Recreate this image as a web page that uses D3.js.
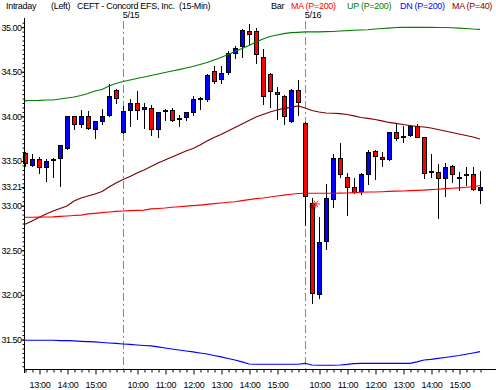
<!DOCTYPE html>
<html>
<head>
<meta charset="utf-8">
<script src="https://cdn.jsdelivr.net/npm/d3@7"></script>
<style>
  body { margin: 0; background: #fff; }
  svg { display: block; font-family: "Liberation Sans", Arial, sans-serif; }
</style>
</head>
<body>
<svg id="chart"></svg>
<script>
// CEFT 15-min bars, 5/14 12:30 .. 5/16 15:45
// slot = day * 26 + bar of the day (9:30 bar = 0)
const firstSlot = 12;

const open = [
  33.59, 33.46, 33.52, 33.43, 33.51, 33.53, 33.65, 34.00, 33.92, 34.01, 33.86, 33.95, 34.02, 34.30,
  33.83, 34.07, 34.15, 34.08, 34.09, 33.86, 34.07, 34.07, 33.98, 33.99, 34.05, 34.21, 34.20,
  34.51, 34.42, 34.50, 34.71, 34.79, 34.96, 34.96, 34.66, 34.48, 34.27, 34.23, 33.95, 34.30,
  33.93, 33.03, 32.01, 32.60, 33.08, 33.53, 33.32, 33.21, 33.16, 33.36, 33.61, 33.54, 33.52,
  33.82, 33.78, 33.79, 33.89, 33.77, 33.39, 33.38, 33.31, 33.44, 33.32, 33.35, 33.35, 33.18
];
const high = [
  33.60, 33.58, 33.55, 33.52, 33.53, 33.68, 34.01, 34.01, 34.07, 34.06, 33.95, 34.08, 34.36, 34.31,
  34.12, 34.19, 34.28, 34.15, 34.13, 34.05, 34.08, 34.09, 34.02, 34.05, 34.23, 34.22, 34.47,
  34.57, 34.56, 34.73, 34.79, 34.98, 35.03, 34.99, 34.76, 34.49, 34.33, 34.24, 34.31, 34.41,
  33.94, 33.09, 32.87, 33.24, 33.58, 33.70, 33.37, 33.31, 33.37, 33.62, 33.62, 33.60, 33.83,
  33.92, 33.89, 33.90, 33.92, 33.77, 33.58, 33.47, 33.48, 33.45, 33.38, 33.43, 33.43, 33.39
];
const low = [
  33.44, 33.44, 33.37, 33.28, 33.32, 33.22, 33.64, 33.86, 33.88, 33.86, 33.76, 33.91, 34.01, 34.15,
  33.81, 33.89, 33.97, 33.87, 33.79, 33.77, 33.96, 33.95, 33.89, 33.96, 34.02, 34.08, 34.17,
  34.37, 34.37, 34.48, 34.65, 34.66, 34.81, 34.60, 34.14, 34.10, 33.97, 33.92, 33.94, 34.02,
  32.78, 31.91, 31.97, 32.52, 32.98, 33.32, 32.90, 33.14, 33.13, 33.24, 33.30, 33.44, 33.51,
  33.74, 33.71, 33.78, 33.77, 33.31, 33.32, 32.86, 33.11, 33.27, 33.18, 33.23, 33.18, 33.03
];
const close = [
  33.48, 33.52, 33.43, 33.50, 33.52, 33.68, 34.01, 33.92, 34.01, 33.87, 33.95, 34.01, 34.23, 34.21,
  34.06, 34.15, 34.07, 34.10, 33.86, 34.05, 34.07, 33.96, 33.98, 34.05, 34.19, 34.21, 34.46,
  34.40, 34.49, 34.71, 34.77, 34.97, 34.92, 34.70, 34.23, 34.28, 34.25, 34.01, 34.30, 34.16,
  33.11, 32.02, 32.59, 33.09, 33.53, 33.36, 33.21, 33.15, 33.35, 33.60, 33.56, 33.52, 33.82,
  33.76, 33.78, 33.89, 33.77, 33.37, 33.39, 33.31, 33.43, 33.36, 33.32, 33.35, 33.19, 33.21
];

const ma200 = [
  32.870, 32.870, 32.872, 32.873, 32.875, 32.879, 32.884, 32.890, 32.895, 32.907, 32.914, 32.921, 32.929, 32.935,
  32.940, 32.944, 32.948, 32.951, 32.963, 32.968, 32.974, 32.982, 32.988, 32.994, 33.000, 33.007, 33.015,
  33.022, 33.030, 33.038, 33.044, 33.056, 33.067, 33.078, 33.086, 33.097, 33.108, 33.119, 33.128, 33.136,
  33.139, 33.139, 33.139, 33.139, 33.139, 33.140, 33.142, 33.147, 33.150, 33.153, 33.153, 33.156, 33.159,
  33.162, 33.164, 33.168, 33.172, 33.175, 33.179, 33.184, 33.190, 33.195, 33.200, 33.206, 33.212, 33.226
];
const up200 = [
  34.176, 34.178, 34.180, 34.184, 34.184, 34.195, 34.206, 34.217, 34.234, 34.257, 34.285, 34.301, 34.341, 34.369,
  34.391, 34.408, 34.425, 34.441, 34.458, 34.475, 34.492, 34.509, 34.525, 34.542, 34.559, 34.581, 34.604,
  34.632, 34.660, 34.693, 34.727, 34.761, 34.794, 34.834, 34.867, 34.895, 34.912, 34.927, 34.938, 34.942,
  34.946, 34.946, 34.948, 34.949, 34.951, 34.957, 34.960, 34.965, 34.968, 34.971, 34.979, 34.985, 34.990,
  34.996, 34.998, 34.998, 34.998, 34.998, 34.998, 34.996, 34.996, 34.993, 34.990, 34.985, 34.979, 34.976
];
const dn200 = [
  31.492, 31.492, 31.492, 31.492, 31.492, 31.489, 31.487, 31.484, 31.480, 31.476, 31.473, 31.467, 31.461, 31.456,
  31.450, 31.445, 31.439, 31.433, 31.428, 31.417, 31.405, 31.394, 31.383, 31.372, 31.361, 31.349, 31.338,
  31.321, 31.305, 31.288, 31.271, 31.249, 31.226, 31.223, 31.223, 31.223, 31.223, 31.223, 31.223, 31.223,
  31.234, 31.215, 31.212, 31.212, 31.212, 31.215, 31.221, 31.230, 31.234, 31.234, 31.234, 31.234, 31.234,
  31.234, 31.234, 31.234, 31.249, 31.271, 31.277, 31.288, 31.299, 31.310, 31.321, 31.335, 31.349, 31.364
];
const ma40 = [
  32.791, 32.828, 32.867, 32.907, 32.940, 32.968, 32.996, 33.052, 33.086, 33.108, 33.131, 33.159, 33.209, 33.254,
  33.293, 33.327, 33.366, 33.400, 33.439, 33.478, 33.512, 33.545, 33.579, 33.612, 33.640, 33.680, 33.724,
  33.764, 33.797, 33.836, 33.876, 33.915, 33.954, 33.993, 34.021, 34.049, 34.072, 34.089, 34.102, 34.117,
  34.094, 34.066, 34.049, 34.038, 34.035, 34.032, 34.021, 34.005, 33.988, 33.977, 33.965, 33.949, 33.932,
  33.921, 33.909, 33.898, 33.887, 33.881, 33.870, 33.853, 33.836, 33.820, 33.803, 33.786, 33.769, 33.747
];

const daySlots = [26, 52];
const dayLabels = ['5/15', '5/16'];
const hourSlots = [14, 18, 22, 28, 32, 36, 40, 44, 48, 54, 58, 62, 66, 70, 74];
const hourLabels = ['13:00', '14:00', '15:00', '10:00', '11:00', '12:00', '13:00', '14:00', '15:00',
                    '10:00', '11:00', '12:00', '13:00', '14:00', '15:00'];
const priceTicks = [35.0, 34.5, 34.0, 33.5, 33.0, 32.5, 32.0, 31.5];

const title = ['Intraday', '(Left)', 'CEFT - Concord EFS, Inc.  (15-Min)', 'Bar'];
const legendNames = ['MA (P=200)', 'UP (P=200)', 'DN (P=200)', 'MA (P=40)'];

class CandleChart {

    constructor( config ) {
        this.config = {
            parent: config.parent,
            width: config.width || 496,
            height: config.height || 390,
            left: 24, right: 496, top: 20, bottom: 369
        };
        this.init();
    }

    init() {
        let self = this;
        const c = self.config;

        self.svg = d3.select( c.parent )
            .attr('width', c.width)
            .attr('height', c.height);

        self.xscale = d3.scaleLinear()
            .domain( [firstSlot, firstSlot + open.length - 1] )
            .range( [25, 480] );

        self.yscale = d3.scaleLinear()
            .domain( [31.17, 35.08] )
            .range( [c.bottom, c.top] );

        self.bars = open.map( (o, i) => ({
            slot: firstSlot + i, o: o, h: high[i], l: low[i], c: close[i]
        }) );

        self.render();
    }

    render() {
        let self = this;
        const c = self.config;
        const x = self.xscale, y = self.yscale;
        const px = s => Math.round( x(s) );

        // header
        const head = self.svg.append('g')
            .attr('font-size', 9)
            .attr('letter-spacing', -0.3);
        const titleX = [6, 51, 77, 271];
        head.selectAll('text.title')
            .data(title)
            .join('text')
            .attr('x', (d, i) => titleX[i])
            .attr('y', 9)
            .attr('fill', '#000')
            .attr('xml:space', 'preserve')
            .text(d => d);
        const legendX = [291, 347, 400, 452];
        const legendColor = ['#ff0000', '#008000', '#0000ff', '#800000'];
        head.selectAll('text.legend')
            .data(legendNames)
            .join('text')
            .attr('x', (d, i) => legendX[i])
            .attr('y', 9)
            .attr('fill', (d, i) => legendColor[i])
            .text(d => d);

        // day separators
        const sep = self.svg.append('g');
        sep.selectAll('line')
            .data(daySlots)
            .join('line')
            .attr('x1', d => px(d) + 0.5)
            .attr('x2', d => px(d) + 0.5)
            .attr('y1', 21)
            .attr('y2', c.bottom)
            .attr('stroke', '#888')
            .attr('stroke-dasharray', '8,3,2,3');
        sep.selectAll('text')
            .data(dayLabels)
            .join('text')
            .attr('x', (d, i) => px(daySlots[i]) + 8)
            .attr('y', 17.5)
            .attr('text-anchor', 'middle')
            .attr('font-size', 9)
            .attr('letter-spacing', -0.3)
            .text(d => d);

        // candles
        const candles = self.svg.append('g')
            .attr('shape-rendering', 'crispEdges');
        candles.selectAll('line')
            .data(self.bars)
            .join('line')
            .attr('x1', d => px(d.slot) + 0.5)
            .attr('x2', d => px(d.slot) + 0.5)
            .attr('y1', d => Math.round( y(d.h) ))
            .attr('y2', d => Math.round( y(d.l) ) + 1)
            .attr('stroke', '#000');
        candles.selectAll('rect')
            .data(self.bars)
            .join('rect')
            .attr('x', d => px(d.slot) - 1.5)
            .attr('width', 4)
            .attr('y', d => Math.round( y(Math.max(d.o, d.c)) ) + 0.5)
            .attr('height', d => Math.max( Math.round( y(Math.min(d.o, d.c)) ) - Math.round( y(Math.max(d.o, d.c)) ), 1 ))
            .attr('fill', d => d.c > d.o ? '#0000ff' : d.c < d.o ? '#ff0000' : '#000')
            .attr('stroke', '#000');

        // cursor glint on the 5/16 second bar
        const g2 = self.bars[41];
        const glint = self.svg.append('g')
            .attr('transform', `translate(${px(g2.slot) + 4}, ${y(g2.o) + 1})`);
        glint.append('circle')
            .attr('cx', -3).attr('cy', 2).attr('r', 3.5)
            .attr('fill', '#400')
            .attr('opacity', 0.5);
        glint.selectAll('line')
            .data(d3.range(6))
            .join('line')
            .attr('x1', 0).attr('y1', 0)
            .attr('x2', d => 4 * Math.cos(d * Math.PI / 3))
            .attr('y2', d => 4 * Math.sin(d * Math.PI / 3))
            .attr('stroke', '#ff3030')
            .attr('stroke-width', 1);

        // indicator lines
        const line = d3.line()
            .x( (d, i) => x(firstSlot + i) )
            .y( d => y(d) );
        const series = [
            { v: ma40, color: '#800000' },
            { v: ma200, color: '#ff0000' },
            { v: up200, color: '#008000' },
            { v: dn200, color: '#0000ff' }
        ];
        self.svg.append('g')
            .selectAll('path')
            .data(series)
            .join('path')
            .attr('d', d => line(d.v))
            .attr('fill', 'none')
            .attr('stroke', d => d.color)
            .attr('stroke-width', 1.2);

        // y axis
        const minor = d3.range(31.20, 35.08, 0.05);
        const yaxis = d3.axisLeft( y )
            .tickValues( minor )
            .tickSize(2)
            .tickSizeOuter(0)
            .tickFormat('');
        self.svg.append('g')
            .attr('transform', `translate(${c.left + 0.5}, 0)`)
            .call( yaxis )
            .call( g => g.select('.domain').remove() );
        const ymajor = d3.axisLeft( y )
            .tickValues( priceTicks.concat([close[close.length - 1]]) )
            .tickSize(3)
            .tickPadding(0)
            .tickSizeOuter(0)
            .tickFormat( d3.format('.2f') );
        self.svg.append('g')
            .attr('transform', `translate(${c.left + 0.5}, 0)`)
            .call( ymajor )
            .call( g => g.select('.domain').remove() )
            .call( g => g.selectAll('text')
                .attr('font-family', null)
                .attr('font-size', 9)
                .attr('letter-spacing', -0.5) );

        // x axis
        const xaxis = d3.axisBottom( x )
            .tickValues( d3.range(firstSlot, firstSlot + open.length) )
            .tickSize(3)
            .tickPadding(9)
            .tickSizeOuter(0)
            .tickFormat( d => {
                const k = hourSlots.indexOf(d);
                return k >= 0 ? hourLabels[k] : '';
            });
        const xg = self.svg.append('g')
            .attr('transform', `translate(0.5, ${c.bottom + 0.5})`)
            .call( xaxis )
            .call( g => g.select('.domain').remove() );
        xg.selectAll('.tick line')
            .attr('y2', d => hourSlots.includes(d) ? 5 : 3);
        xg.selectAll('text')
            .attr('font-family', null)
            .attr('font-size', 9)
            .attr('letter-spacing', -0.3);

        // axis lines
        self.svg.append('line')
            .attr('x1', c.left + 0.5).attr('x2', c.left + 0.5)
            .attr('y1', 18).attr('y2', c.bottom + 4)
            .attr('stroke', '#000');
        self.svg.append('line')
            .attr('x1', c.left).attr('x2', c.right)
            .attr('y1', c.bottom + 0.5).attr('y2', c.bottom + 0.5)
            .attr('stroke', '#000');
    }
}

new CandleChart( { parent: '#chart', width: 496, height: 390 } );
</script>
</body>
</html>
